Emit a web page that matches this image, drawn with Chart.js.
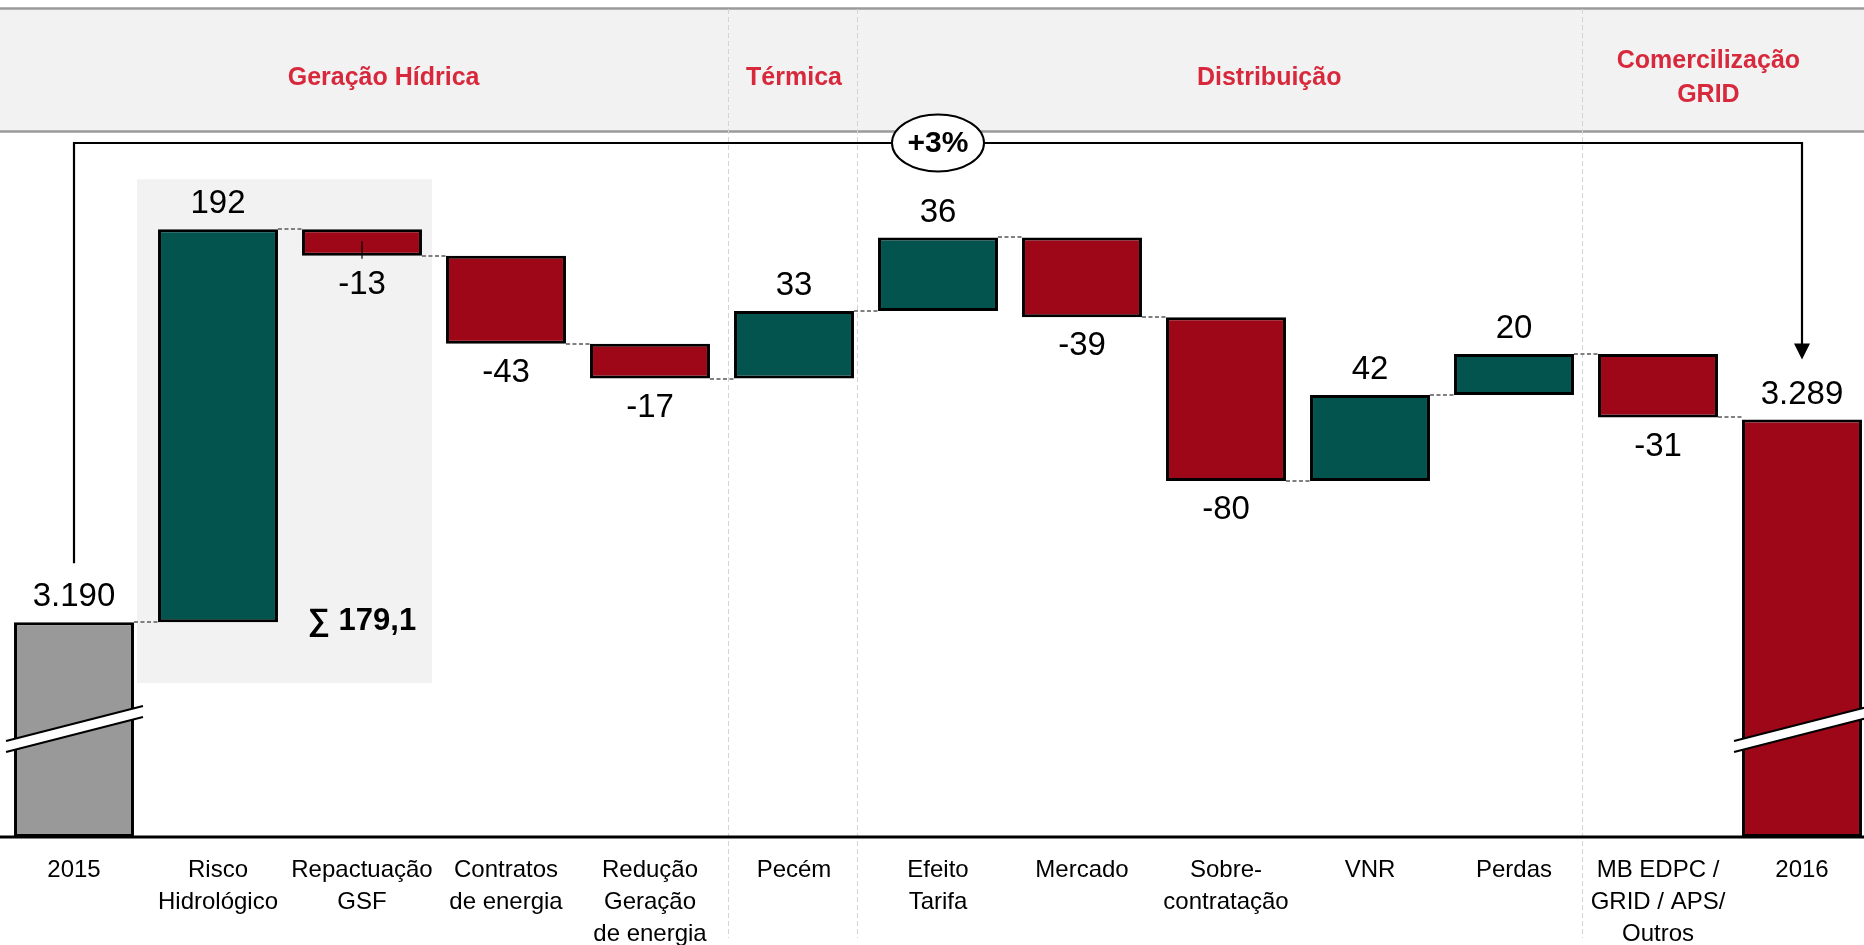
<!DOCTYPE html>
<html>
<head>
<meta charset="utf-8">
<script src="https://cdn.jsdelivr.net/npm/chart.js@4"></script>
<style>
  html, body { margin: 0; padding: 0; background: #fff; overflow: hidden; }
  #wrap { width: 1864px; height: 945px; overflow: hidden; }
</style>
</head>
<body>
<div id="wrap"><canvas id="chart" width="1876" height="945"></canvas></div>
<script>
// data
const categories = [
  '2015',
  ['Risco', 'Hidrológico'],
  ['Repactuação', 'GSF'],
  ['Contratos', 'de energia'],
  ['Redução', 'Geração', 'de energia'],
  'Pecém',
  ['Efeito', 'Tarifa'],
  'Mercado',
  ['Sobre-', 'contratação'],
  'VNR',
  'Perdas',
  ['MB EDPC /', 'GRID / APS/', 'Outros'],
  '2016'
];
const startValue = 3190;
const deltas = [192, -13, -43, -17, 33, 36, -39, -80, 42, 20, -31];
const endValue = 3289;

const headerTitles = [['Geração Hídrica'], ['Térmica'], ['Distribuição'], ['Comercilização', 'GRID']];
const headerPos = [2.15, 5.0, 8.3, 11.35];     // in category units
const separatorPos = [4.54, 5.44, 10.47];       // in category units
const sumLabel = '∑ 179,1';

const axisMin = 3085, axisMax = 3430;

const GREEN = '#03534f', RED = '#9e0718', GREY = '#999999';
const FONT = "'Liberation Sans', Arial, sans-serif";

// build floating bars
let running = startValue;
const ranges = [[axisMin, startValue]];
const colors = [GREY];
const valueLabels = [fmt(startValue)];
const levels = [startValue];
deltas.forEach(function (d) {
  ranges.push([running, running + d]);
  running += d;
  levels.push(running);
  colors.push(d >= 0 ? GREEN : RED);
  valueLabels.push(String(d));
});
ranges.push([axisMin, endValue]);
colors.push(RED);
valueLabels.push(fmt(endValue));
levels.push(endValue);

function fmt(v) {
  return String(v).replace(/\B(?=(\d{3})+(?!\d))/g, '.');
}

function barBox(el) {
  return {
    left: el.x - el.width / 2,
    right: el.x + el.width / 2,
    top: Math.min(el.y, el.base),
    bottom: Math.max(el.y, el.base)
  };
}

const deco = {
  id: 'deco',
  beforeDatasetsDraw(chart) {
    const ctx = chart.ctx, x = chart.scales.x, y = chart.scales.y;
    const meta = chart.getDatasetMeta(0);
    ctx.save();

    // header band
    ctx.fillStyle = '#f2f2f2';
    ctx.fillRect(0, 9, chart.width, 122);
    ctx.strokeStyle = '#9a9a9a';
    ctx.lineWidth = 2.5;
    ctx.beginPath();
    ctx.moveTo(0, 8.5); ctx.lineTo(chart.width, 8.5);
    ctx.moveTo(0, 131.5); ctx.lineTo(chart.width, 131.5);
    ctx.stroke();

    // grey box behind hydro items
    const b1 = barBox(meta.data[1]), b2 = barBox(meta.data[2]);
    const boxTop = b1.top - 50;
    const boxBottom = y.getPixelForValue(startValue) + 61;
    ctx.fillStyle = '#f2f2f2';
    ctx.fillRect(b1.left - 21, boxTop, (b2.right + 10) - (b1.left - 21), boxBottom - boxTop);

    // dashed separators
    ctx.strokeStyle = '#d4d4d4';
    ctx.lineWidth = 1;
    ctx.setLineDash([5, 3]);
    separatorPos.forEach(function (p) {
      const px = Math.round(x.getPixelForValue(p)) + 0.5;
      ctx.beginPath();
      ctx.moveTo(px, 9);
      ctx.lineTo(px, 938);
      ctx.stroke();
    });
    ctx.setLineDash([]);

    // header titles
    ctx.fillStyle = '#d7283c';
    ctx.font = 'bold 25px ' + FONT;
    ctx.textAlign = 'center';
    ctx.textBaseline = 'middle';
    headerTitles.forEach(function (lines, i) {
      const px = x.getPixelForValue(headerPos[i]);
      const y0 = 78 - (lines.length - 1) * 17;
      lines.forEach(function (t, j) { ctx.fillText(t, px, y0 + j * 34); });
    });
    ctx.restore();
  },
  afterDatasetsDraw(chart) {
    const ctx = chart.ctx, x = chart.scales.x, y = chart.scales.y, area = chart.chartArea;
    const meta = chart.getDatasetMeta(0);
    const boxes = meta.data.map(barBox);
    ctx.save();

    // connectors
    ctx.strokeStyle = '#808080';
    ctx.lineWidth = 2;
    ctx.setLineDash([4, 2.5]);
    for (let i = 0; i < boxes.length - 1; i++) {
      const ly = Math.round(y.getPixelForValue(levels[i]));
      ctx.beginPath();
      ctx.moveTo(boxes[i].right, ly);
      ctx.lineTo(boxes[i + 1].left, ly);
      ctx.stroke();
    }
    ctx.setLineDash([]);

    // small tick inside the GSF bar
    const g = boxes[2];
    ctx.strokeStyle = '#000';
    ctx.lineWidth = 1.2;
    ctx.beginPath();
    ctx.moveTo(meta.data[2].x, g.top + 12);
    ctx.lineTo(meta.data[2].x, g.bottom + 3);
    ctx.stroke();

    // axis line
    ctx.strokeStyle = '#000';
    ctx.lineWidth = 3;
    ctx.beginPath();
    ctx.moveTo(0, area.bottom);
    ctx.lineTo(chart.width, area.bottom);
    ctx.stroke();

    // axis breaks on total bars
    [0, boxes.length - 1].forEach(function (i) {
      const b = boxes[i];
      const x0 = b.left - 8, x1 = b.right + 9;
      const yA = area.bottom - 96, yB = yA - 35;
      const th = 11;
      ctx.fillStyle = '#fff';
      ctx.beginPath();
      ctx.moveTo(x0, yA); ctx.lineTo(x1, yB); ctx.lineTo(x1, yB + th); ctx.lineTo(x0, yA + th);
      ctx.closePath();
      ctx.fill();
      ctx.strokeStyle = '#000';
      ctx.lineWidth = 2;
      ctx.beginPath();
      ctx.moveTo(x0, yA); ctx.lineTo(x1, yB);
      ctx.moveTo(x0, yA + th); ctx.lineTo(x1, yB + th);
      ctx.stroke();
    });

    // value labels
    ctx.fillStyle = '#000';
    ctx.font = '33px ' + FONT;
    ctx.textAlign = 'center';
    ctx.textBaseline = 'middle';
    boxes.forEach(function (b, i) {
      const isTotal = i === 0 || i === boxes.length - 1;
      const up = isTotal || deltas[i - 1] >= 0;
      const ly = up ? b.top - 25 : b.bottom + 29;
      ctx.fillText(valueLabels[i], meta.data[i].x, ly);
    });

    // sum label for hydro group
    ctx.font = 'bold 31px ' + FONT;
    ctx.fillText(sumLabel, meta.data[2].x, y.getPixelForValue(startValue) - 1);

    // bracket from 2015 to 2016
    const by = 143;
    const xa = meta.data[0].x, xb = meta.data[boxes.length - 1].x;
    const tip = boxes[boxes.length - 1].top - 60;
    ctx.strokeStyle = '#000';
    ctx.lineWidth = 2.2;
    ctx.beginPath();
    ctx.moveTo(xa, boxes[0].top - 59);
    ctx.lineTo(xa, by);
    ctx.lineTo(xb, by);
    ctx.lineTo(xb, tip - 14);
    ctx.stroke();
    ctx.fillStyle = '#000';
    ctx.beginPath();
    ctx.moveTo(xb - 8, tip - 16);
    ctx.lineTo(xb + 8, tip - 16);
    ctx.lineTo(xb, tip);
    ctx.closePath();
    ctx.fill();

    // growth ellipse
    const ex = x.getPixelForValue(6);
    ctx.fillStyle = '#fff';
    ctx.lineWidth = 2;
    ctx.beginPath();
    ctx.ellipse(ex, by, 46, 28.5, 0, 0, Math.PI * 2);
    ctx.fill();
    ctx.stroke();
    const pct = Math.round((endValue / startValue - 1) * 100);
    ctx.fillStyle = '#000';
    ctx.font = 'bold 30px ' + FONT;
    ctx.fillText('+' + pct + '%', ex, by + 1);

    ctx.restore();
  }
};

new Chart(document.getElementById('chart'), {
  type: 'bar',
  data: {
    labels: categories,
    datasets: [{
      data: ranges,
      backgroundColor: colors,
      borderColor: '#000',
      borderWidth: 3,
      borderSkipped: false,
      barPercentage: 0.833,
      categoryPercentage: 1
    }]
  },
  options: {
    responsive: false,
    animation: false,
    layout: { padding: { top: 131, left: 2, right: 2, bottom: 0 } },
    plugins: { legend: { display: false }, tooltip: { enabled: false } },
    scales: {
      x: {
        grid: { display: false },
        border: { display: false },
        ticks: {
          color: '#000',
          font: { family: FONT, size: 24, lineHeight: 1.32 },
          padding: 10,
          autoSkip: false,
          maxRotation: 0
        },
        afterFit: function (scale) { scale.height = 108; }
      },
      y: {
        display: false,
        min: axisMin,
        max: axisMax
      }
    }
  },
  plugins: [deco]
});
</script>
</body>
</html>
